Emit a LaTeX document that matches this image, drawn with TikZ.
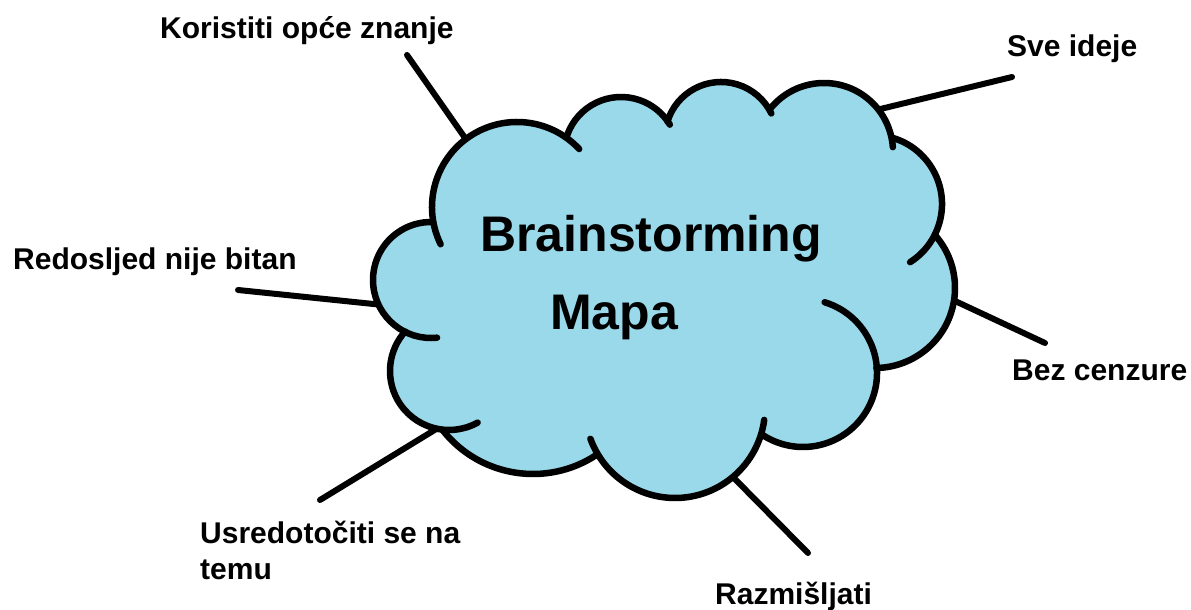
\documentclass[tikz,border=0pt]{standalone}
\usepackage{fontspec}
\setmainfont{Liberation Sans}
\usepackage{tikz}
\usetikzlibrary{calc}
\definecolor{cloudblue}{HTML}{99D9EA}

\begin{document}
\begin{tikzpicture}[x=1pt,y=1pt,
    rim/.style={line width=6.5pt,line cap=round},
    spoke/.style={line width=6pt,line cap=round},
    idea/.style={font=\fontsize{30}{36}\selectfont\bfseries,inner sep=0pt,
                 anchor=base west,align=left},
    title/.style={font=\fontsize{50}{60}\selectfont\bfseries,inner sep=0pt,
                  anchor=base west}]
  \useasboundingbox (0,0) rectangle (1191,610);
  % Lobe centres of the cloud
  \coordinate (lA) at (517,403);
  \coordinate (lB) at (621,456);
  \coordinate (lC) at (721,472);
  \coordinate (lD) at (824,458);
  \coordinate (lE) at (873,406);
  \coordinate (lF) at (875,322);
  \coordinate (lG) at (803,237);
  \coordinate (lH) at (675,202);
  \coordinate (lJ) at (533,251);
  \coordinate (lK) at (449,239);
  \coordinate (lL) at (431,330);
  % Where the spokes meet the cloud, and their free ends
  \coordinate (aKnow) at ($(lA)+(127:85)$);
  \coordinate (aIdeas) at ($(lD)+(38:69)$);
  \coordinate (aCens) at ($(lF)+(-9:80)$);
  \coordinate (aThink) at ($(lH)+(-50:90)$);
  \coordinate (aFocus) at ($(lK)+(258:59)$);
  \coordinate (aOrder) at ($(lL)+(205:58)$);
  \coordinate (eKnow) at (407,555);
  \coordinate (eIdeas) at (1012,533);
  \coordinate (eCens) at (1045,267);
  \coordinate (eThink) at (808,57);
  \coordinate (eFocus) at (320,110);
  \coordinate (eOrder) at (238,320);
  % Spokes
  \foreach \a/\e in {aKnow/eKnow,aIdeas/eIdeas,aCens/eCens,aThink/eThink,
                     aFocus/eFocus,aOrder/eOrder}
    \draw[spoke] (\a) -- (\e);
  % Cloud fill
  \foreach \c/\r in {lA/85,lB/57,lC/56,lD/69,lE/69,lF/80,lG/74,lH/90,lJ/115,lK/59,lL/58}
    \fill[cloudblue] (\c) circle[radius=\r];
  \fill[cloudblue] (lA) -- (lB) -- (lC) -- (lD) -- (lE) -- (lF) -- (lG) -- (lH)
                   -- (lJ) -- (lK) -- (lL) -- cycle;
  % Cloud outline, lobe by lobe
  \foreach \c/\r/\s/\t in {lA/85/206/43,lB/57/161/31,lC/56/163/26,lD/69/142/4,
                           lE/69/74/-57.5,lF/80/41/-89,lG/74/73/-124,lH/90/-7.6/-160,
                           lJ/115/-56.5/-141.7,lK/59/-61/-222,lL/58/-84/-272}
    \draw[rim] (\c) ++(\s:\r) arc[start angle=\s, end angle=\t, radius=\r];
  % Labels
  \node[title] (brain) at (480,358) {Brainstorming};
  \node[title] (map) at (550,280) {Mapa};
  \node[idea] (know) at (160,571) {Koristiti opće znanje};
  \node[idea] (ideas) at (1007,553) {Sve ideje};
  \node[idea] (order) at (13,340) {Redosljed nije bitan};
  \node[idea] (focus) at (200,30) {Usredotočiti se na\\temu};
  \node[idea] (think) at (715,5) {Razmišljati};
  \node[idea] (cens) at (1012,229) {Bez cenzure};
\end{tikzpicture}
\end{document}
